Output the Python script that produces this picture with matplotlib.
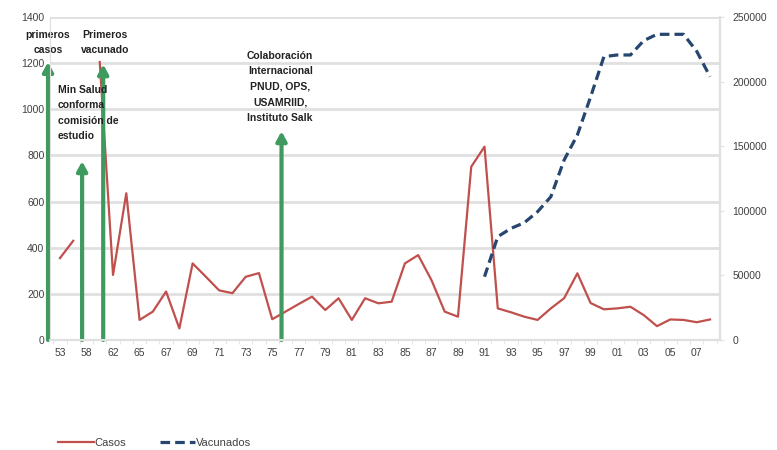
# === FIEBRE HEMORRAGICA: CASOS Y VACUNADOS POR AÑO ===

import numpy as np
import matplotlib
matplotlib.use("Agg")
import matplotlib.pyplot as plt

# === DATOS ===
ANIOS = ["53", "56", "58", "60", "62", "63"] + [f"{a % 100:02d}" for a in range(1965, 2009)]

CASOS = [355, 430, np.nan, 1205, 282, 636, 87, 123, 210, 50,
         332, 274, 215, 203, 274, 290, 90, 123, 156, 188,
         130, 181, 87, 181, 159, 166, 332, 368, 260, 123,
         101, 751, 838, 137, 120, 101, 87, 137, 181, 289,
         160, 133, 137, 144, 108, 60, 89, 87, 77, 89]

VACUNADOS = [np.nan] * 32 + [49000, 80000, 86400, 90800, 99300, 110900, 139300, 158700,
                             188300, 219300, 220600, 220600, 231700, 236600, 236600, 236600,
                             223400, 203800]

# hitos: (posicion en el eje, altura de la flecha)
HITOS_X = [-0.9, 1.67, 3.26, 16.7]
HITOS_Y = [1205, 775, 1195, 905]

TEXTOS = ["primeros\ncasos", "Primeros\nvacunado", "Min Salud\nconforma\ncomisión de\nestudio",
          "Colaboración\nInternacional\nPNUD, OPS,\nUSAMRIID,\nInstituto Salk"]

ROJO = "#C0504D"
AZUL = "#27466F"
VERDE = "#3E9A5E"
GRIS = "#E0E0E0"
TXT = "#404040"

plt.rcParams["font.family"] = ["Liberation Sans", "DejaVu Sans"]

fig = plt.figure(figsize=(7.77, 4.5), dpi=100)
ax = fig.add_axes([50 / 777, 110 / 450, 670 / 777, 323 / 450])
ax2 = ax.twinx()

x = np.arange(len(ANIOS))

# === SERIES ===
ax.plot(x, CASOS, color=ROJO, lw=1.6, label="Casos", zorder=3)
ax2.plot(x, VACUNADOS, color=AZUL, lw=2.3, dashes=(3, 1.6), label="Vacunados", zorder=3)

# === EJES ===
ax.set_xlim(-0.75, len(ANIOS) - 0.25)
ax.set_ylim(0, 1400)
ax.set_yticks(range(0, 1401, 200))
ax2.set_ylim(0, 250000)
ax2.set_yticks(range(0, 250001, 50000))

ax.set_xticks(x[::2])
ax.set_xticklabels(ANIOS[::2])
ax.set_xticks(np.arange(-0.5, len(ANIOS), 1), minor=True)
ax.tick_params(axis="x", which="major", length=0, labelsize=7.5, labelcolor=TXT, pad=6)
ax.tick_params(axis="x", which="minor", length=3, color=GRIS)
ax.tick_params(axis="y", length=0, labelsize=7.5, labelcolor=TXT, pad=4)
ax2.tick_params(axis="y", length=3, color=GRIS, labelsize=7.5, labelcolor=TXT, pad=6)

ax.grid(axis="y", color=GRIS, lw=2, zorder=0)
for a in (ax, ax2):
    a.spines["top"].set_visible(False)
    a.spines["left"].set_color(GRIS)
    a.spines["bottom"].set_color(GRIS)
    a.spines["right"].set_color(GRIS)
    a.spines["bottom"].set_linewidth(1.5)
    a.spines["right"].set_linewidth(1.5)

# === HITOS (flechas verdes) ===
for hx, hy in zip(HITOS_X, HITOS_Y):
    ax.annotate("", xy=(hx, hy), xytext=(hx, 0),
                arrowprops=dict(arrowstyle="-|>,head_width=0.3,head_length=0.55",
                                color=VERDE, lw=3, shrinkA=0, shrinkB=0),
                annotation_clip=False, zorder=5)

estilo = dict(fontsize=7.5, fontweight="bold", color="#222222", linespacing=1.7,
              multialignment="center", zorder=6)
ax.text(-0.9, 1290, TEXTOS[0], ha="center", va="center", **estilo)
ax.text(3.4, 1290, TEXTOS[1], ha="center", va="center", **estilo)
ax.text(-0.15, 984, TEXTOS[2], ha="left", va="center",
        **{**estilo, "multialignment": "left"})
ax.text(16.6, 1097, TEXTOS[3], ha="center", va="center", **estilo)

# === LEYENDA ===
h1, l1 = ax.get_legend_handles_labels()
h2, l2 = ax2.get_legend_handles_labels()
fig.legend(h1 + h2, l1 + l2, loc="center left", bbox_to_anchor=(48 / 777, 7 / 450),
           ncol=2, frameon=False, fontsize=8, handlelength=3.2, handletextpad=0.1,
           columnspacing=3.0, labelcolor=TXT)

plt.savefig("out.png", dpi=100)
